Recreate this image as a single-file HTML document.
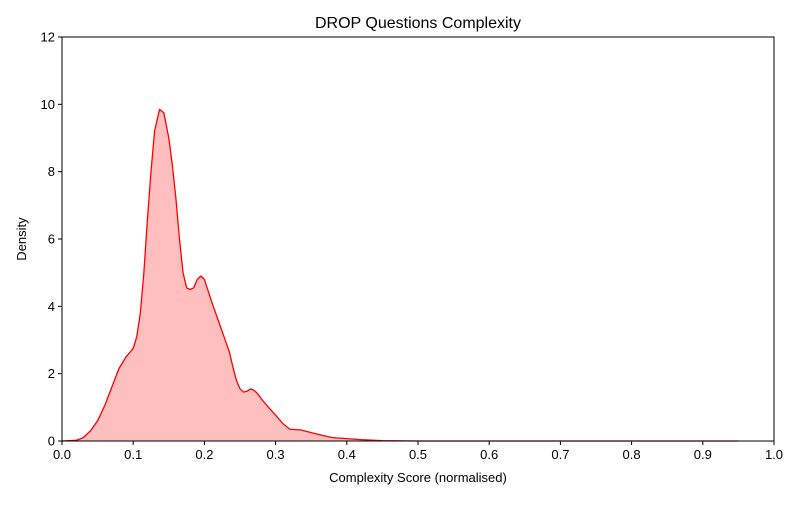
<!DOCTYPE html>
<html><head><meta charset="utf-8"><style>
body{margin:0;background:#fff;}
svg text{font-family:"Liberation Sans","DejaVu Sans",sans-serif;fill:#000;}
</style></head><body>
<svg id="chart" width="800" height="500">
<text x="418" y="28" font-size="16" text-anchor="middle">DROP Questions Complexity</text>
<text x="418" y="482" font-size="13" text-anchor="middle">Complexity Score (normalised)</text>
<text x="26" y="239" font-size="13" text-anchor="middle" transform="rotate(-90 26 239)">Density</text>
<g id="plot"></g>
</svg>
<script>
const xs=[0,0.02,0.03,0.04,0.05,0.06,0.07,0.08,0.09,0.1,0.105,0.11,0.115,0.12,0.125,0.13,0.137,0.143,0.15,0.155,0.16,0.165,0.17,0.175,0.18,0.185,0.19,0.195,0.2,0.21,0.22,0.23,0.235,0.24,0.245,0.25,0.255,0.26,0.265,0.27,0.275,0.28,0.29,0.3,0.31,0.32,0.335,0.35,0.365,0.38,0.4,0.42,0.45,0.5,0.6,0.7,0.8,0.95];
const ys=[0,0.02,0.1,0.3,0.6,1.05,1.6,2.15,2.5,2.75,3.1,3.8,5.0,6.6,8.0,9.2,9.85,9.75,9.0,8.2,7.2,6.0,5.0,4.55,4.5,4.55,4.8,4.9,4.8,4.15,3.55,2.95,2.65,2.2,1.8,1.55,1.45,1.48,1.55,1.5,1.4,1.25,1.0,0.77,0.52,0.35,0.33,0.25,0.17,0.1,0.07,0.04,0.01,0,0,0,0,0];
const xTicks=[0,0.1,0.2,0.3,0.4,0.5,0.6,0.7,0.8,0.9,1.0];
const xTickLabels=["0.0","0.1","0.2","0.3","0.4","0.5","0.6","0.7","0.8","0.9","1.0"];
const yTicks=[0,2,4,6,8,10,12];
const L=62,R=774,T=37,B=441;
const sx=v=>L+(v-0)/(1-0)*(R-L);
const sy=v=>B-(v/12)*(B-T);
const g=document.getElementById('plot');
const NS='http://www.w3.org/2000/svg';
function mk(t,a){const e=document.createElementNS(NS,t);for(const k in a)e.setAttribute(k,a[k]);g.appendChild(e);return e;}
let d='M'+sx(xs[0])+','+sy(ys[0]);
for(let i=1;i<xs.length;i++)d+=' L'+sx(xs[i]).toFixed(2)+','+sy(ys[i]).toFixed(2);
const area=mk('path',{d:d+' L'+sx(xs[xs.length-1])+','+sy(0)+' L'+sx(xs[0])+','+sy(0)+' Z',fill:'rgba(255,0,0,0.25)',stroke:'none'});


const line=mk('path',{d:d,fill:'none',stroke:'#ff0000','stroke-width':1.3,'stroke-linejoin':'round'});


const frame=mk('rect',{x:L,y:T,width:R-L,height:B-T,fill:'none',stroke:'#000','stroke-width':1});


xTicks.forEach((v,i)=>{
  const tk=mk('line',{x1:sx(v),x2:sx(v),y1:B,y2:B+4,stroke:'#000'});
  
  
  const t=mk('text',{x:sx(v),y:B+18,'font-size':13,'text-anchor':'middle'});
  t.textContent=xTickLabels[i];
  
  
});
yTicks.forEach(v=>{
  const tk=mk('line',{x1:L-4,x2:L,y1:sy(v),y2:sy(v),stroke:'#000'});
  
  
  const t=mk('text',{x:L-7,y:sy(v)+4.5,'font-size':13,'text-anchor':'end'});
  t.textContent=String(v);
  
  
});
</script>
</body></html>
